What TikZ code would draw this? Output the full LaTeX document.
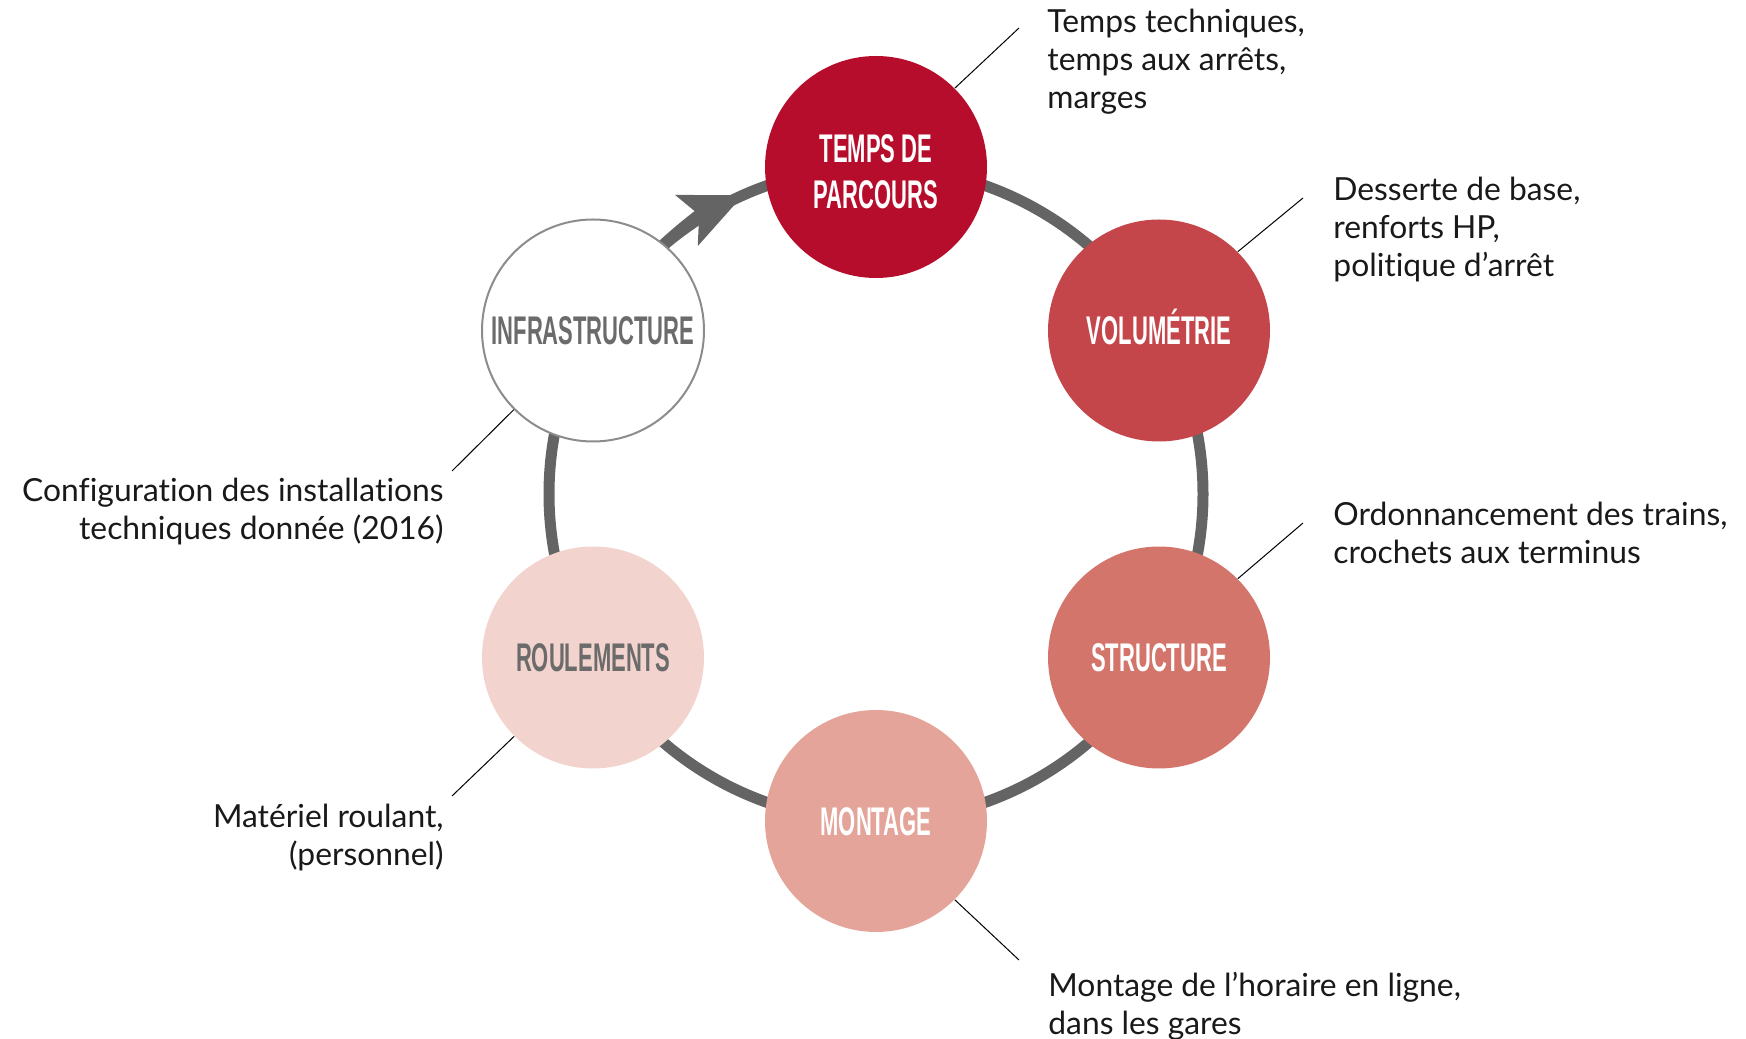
\documentclass[tikz,border=0pt]{standalone}
\usepackage{fontspec}
\setmainfont{Lato}[Ligatures=NoCommon]
\newfontfamily\capsfont{Liberation Sans}
\usetikzlibrary{arrows.meta}
\definecolor{cA}{HTML}{B70D2C}
\definecolor{cB}{HTML}{C4454A}
\definecolor{cC}{HTML}{D4756C}
\definecolor{cD}{HTML}{E4A49A}
\definecolor{cE}{HTML}{F2D3CD}
\definecolor{ringgray}{HTML}{646464}
\definecolor{infgray}{HTML}{8C8C8C}
\definecolor{labgray}{HTML}{6B6B6B}
\newcommand\narrowcaps[1]{\scalebox{0.55}[1]{#1}}
\begin{document}
\begin{tikzpicture}[x=0.5pt,y=0.5pt,
  stage/.style={circle, minimum size=111pt, inner sep=0pt, align=center,
    text height=14.3pt, text depth=0pt,
    font=\capsfont\bfseries\fontsize{20}{23}\selectfont},
  stagetwo/.style={stage, text height=41.1pt, text depth=0pt},
  ringline/.style={draw=ringgray, line width=5.5pt},
  leader/.style={draw=black, line width=0.5pt},
  note/.style={inner sep=0pt, font=\fontsize{15.9}{19}\selectfont, text=black!90}]
\useasboundingbox (0,0) rectangle (1746,1039);
\coordinate (c) at (876,545);
\draw[ringline] (c) circle[radius=163.5pt];
\draw[ringline, -{Stealth[length=31pt, width=28pt, inset=7pt, line width=0pt]}]
  ([shift={(140:327)}]c) arc[start angle=140, end angle=114, radius=163.5pt];

\node[stage, stagetwo, fill=cA, text=white] (tdp) at (876,872) {\narrowcaps{TEMPS DE}\\\narrowcaps{PARCOURS}};
\node[stage, fill=cB, text=white] (vol) at (1159,708.5) {\narrowcaps{VOLUMÉTRIE}};
\node[stage, fill=cC, text=white] (str) at (1159,381.5) {\narrowcaps{STRUCTURE}};
\node[stage, fill=cD, text=white] (mon) at (876,218) {\narrowcaps{MONTAGE}};
\node[stage, fill=cE, text=labgray] (rou) at (593,381.5) {\narrowcaps{ROULEMENTS}};
\node[stage, fill=white, draw=infgray, line width=1pt, text=labgray] (inf) at (593,708.5) {\narrowcaps{INFRASTRUCTURE}};

\coordinate (etdp) at (1019,1011);
\coordinate (evol) at (1303,841);
\coordinate (estr) at (1303,516);
\coordinate (emon) at (1019,79);
\coordinate (einf) at (452,568);
\coordinate (erou) at (452,243);
\draw[leader] (tdp.45) -- (etdp);
\draw[leader] (vol.45) -- (evol);
\draw[leader] (str.45) -- (estr);
\draw[leader] (mon.-45) -- (emon);
\draw[leader] (inf.225) -- (einf);
\draw[leader] (rou.225) -- (erou);

\node[note, anchor=north west, align=left] (ttdp) at (1047,1030) {Temps techniques,\\temps aux arrêts,\\marges};
\node[note, anchor=north west, align=left] (tvol) at (1333,862) {Desserte de base,\\renforts HP,\\politique d’arrêt};
\node[note, anchor=north west, align=left] (tstr) at (1333,537) {Ordonnancement des trains,\\crochets aux terminus};
\node[note, anchor=north west, align=left] (tmon) at (1048,67) {Montage de l’horaire en ligne,\\dans les gares};
\node[note, anchor=north east, align=right] (tinf) at (444,561) {Configuration des installations\\techniques donnée (2016)};
\node[note, anchor=north east, align=right] (trou) at (444,235) {Matériel roulant,\\(personnel)};
\end{tikzpicture}
\end{document}
